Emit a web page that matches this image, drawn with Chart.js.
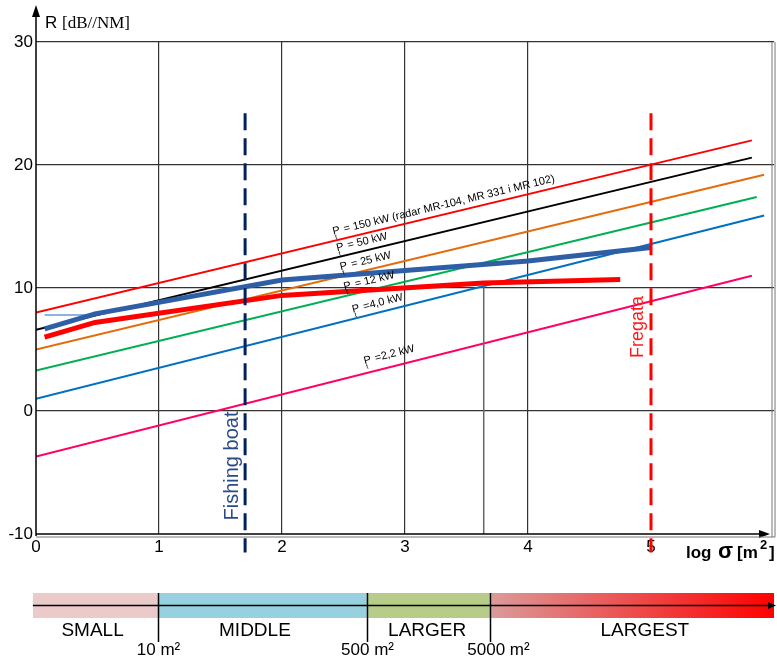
<!DOCTYPE html>
<html>
<head>
<meta charset="utf-8">
<script src="https://cdn.jsdelivr.net/npm/chart.js@4.4.1/dist/chart.umd.min.js"></script>
<style>
  body { margin: 0; background: #fff; }
  canvas { display: block; }
</style>
</head>
<body>
<canvas id="radar" width="777" height="659"></canvas>
<script>
// radar power lines: R [dB/NM] vs log sigma
var powerLabels = ['= 150 kW (radar MR-104, MR 331 i MR 102)', '= 50 kW', '= 25 kW', '= 12 kW', '=4,0 kW', '=2,2 kW'];
var powerColors = ['#ff0000', '#000000', '#e46c0a', '#00b050', '#0070c0', '#ff0066'];
var powerX = [[0, 5.82], [0, 5.82], [0, 5.92], [0, 5.86], [0, 5.92], [0, 5.82]];
var powerY = [[8.0, 22.0], [6.6, 20.6], [5.0, 19.2], [3.3, 17.4], [1.0, 15.9], [-3.7, 11.0]];
var labelAt = [2.43, 2.46, 2.49, 2.52, 2.59, 2.69];

// measured curves
var blueX = [0.07, 0.48, 2.0, 4.0, 5.0];
var blueY = [6.67, 7.9, 10.65, 12.2, 13.3];
var redX = [0.07, 0.48, 2.0, 3.64, 4.75];
var redY = [6.0, 7.2, 9.4, 10.4, 10.7];
var refX = [0.07, 0.48];
var refY = [7.8, 7.8];

// target markers
var fishingX = 1.7, fregataX = 5.0;
var markerY = [24.2, -11.5];

// size classes bar
var classNames = ['SMALL', 'MIDDLE', 'LARGER', 'LARGEST'];
var classStart = [-0.025, 1, 2.7, 3.7];
var classEnd = [1, 2.7, 3.7, 6];
var classLabelX = [0.46, 1.78, 3.18, 4.95];
var classBounds = [1, 2.7, 3.7];
var boundLabels = ['10 m\u00b2', '500 m\u00b2', '5000 m\u00b2'];

function pts(xs, ys) {
  var out = [];
  for (var i = 0; i < xs.length; i++) out.push({x: xs[i], y: ys[i]});
  return out;
}

var datasets = [];
datasets.push({data: pts([fishingX, fishingX], markerY), borderColor: '#002060', borderWidth: 3, borderDash: [17, 8], clip: false});
datasets.push({data: pts([fregataX, fregataX], markerY), borderColor: '#ff0000', borderWidth: 3, borderDash: [17, 8], clip: false});
datasets.push({data: pts(redX, redY), borderColor: '#ff0000', backgroundColor: '#ff0000', borderWidth: 5,
  pointRadius: [0, 2, 0, 2, 0], pointBorderWidth: 0});
datasets.push({data: pts(blueX, blueY), borderColor: '#2e5fa6', backgroundColor: '#2e5fa6', borderWidth: 5,
  pointRadius: [0, 2, 2, 2, 0], pointBorderWidth: 0});
datasets.push({data: pts(refX, refY), borderColor: '#8fb3e0', borderWidth: 2});
datasets.push({data: pts([redX[3], redX[3]], [redY[3], -10]), borderColor: '#666', borderWidth: 1.5});
for (var i = 0; i < powerLabels.length; i++) {
  datasets.push({data: pts(powerX[i], powerY[i]), borderColor: powerColors[i], borderWidth: 2});
}

var extras = {
  id: 'extras',
  afterDraw: function(chart) {
    var ctx = chart.ctx, a = chart.chartArea, xs = chart.scales.x, ys = chart.scales.y;
    ctx.save();

    // power labels along lines
    ctx.fillStyle = '#000';
    for (var i = 0; i < powerLabels.length; i++) {
      var x0 = xs.getPixelForValue(powerX[i][0]), y0 = ys.getPixelForValue(powerY[i][0]);
      var x1 = xs.getPixelForValue(powerX[i][1]), y1 = ys.getPixelForValue(powerY[i][1]);
      var ang = Math.atan2(y1 - y0, x1 - x0);
      var v = labelAt[i];
      var lv = powerY[i][0] + (powerY[i][1] - powerY[i][0]) * (v - powerX[i][0]) / (powerX[i][1] - powerX[i][0]);
      ctx.save();
      ctx.translate(xs.getPixelForValue(v), ys.getPixelForValue(lv));
      ctx.rotate(ang);
      ctx.translate(0, i === 5 ? -9 : -6);
      ctx.font = '11px "Liberation Sans", Arial, sans-serif';
      ctx.textBaseline = 'alphabetic';
      ctx.fillText('P', 0, 0);
      var pw = ctx.measureText('P').width;
      ctx.fillText(' ' + powerLabels[i], pw + 1, 0);
      ctx.font = '7px "Liberation Sans", Arial, sans-serif';
      ctx.fillText('t', 1, 5);
      ctx.restore();
    }

    // target names
    ctx.save();
    ctx.translate(xs.getPixelForValue(fishingX) - 13, 466);
    ctx.rotate(-Math.PI / 2);
    ctx.fillStyle = '#2a4a8a';
    ctx.font = '20px "Liberation Sans", Arial, sans-serif';
    ctx.textAlign = 'center';
    ctx.textBaseline = 'middle';
    ctx.fillText('Fishing boat', 0, 0);
    ctx.restore();

    ctx.save();
    ctx.translate(xs.getPixelForValue(fregataX) - 13, 327);
    ctx.rotate(-Math.PI / 2);
    ctx.fillStyle = '#ff1a1a';
    ctx.font = '18px "Liberation Sans", Arial, sans-serif';
    ctx.textAlign = 'center';
    ctx.textBaseline = 'middle';
    ctx.fillText('Fregata', 0, 0);
    ctx.restore();

    // axes and frame
    ctx.strokeStyle = '#000';
    ctx.fillStyle = '#000';
    ctx.lineWidth = 1.5;
    ctx.beginPath();
    ctx.moveTo(a.left, a.bottom + 2);
    ctx.lineTo(a.left, 14);
    ctx.stroke();
    ctx.beginPath();
    ctx.moveTo(a.left, 5); ctx.lineTo(a.left - 4, 17); ctx.lineTo(a.left + 4, 17);
    ctx.closePath(); ctx.fill();

    ctx.beginPath();
    ctx.moveTo(a.left, a.bottom);
    ctx.lineTo(a.right - 8, a.bottom);
    ctx.stroke();
    ctx.beginPath();
    ctx.moveTo(a.right - 4, a.bottom); ctx.lineTo(a.right - 15, a.bottom - 4); ctx.lineTo(a.right - 15, a.bottom + 4);
    ctx.closePath(); ctx.fill();
    ctx.strokeStyle = '#777';
    ctx.lineWidth = 1;
    ctx.beginPath();
    ctx.moveTo(a.left, a.bottom + 3);
    ctx.lineTo(a.right + 1, a.bottom + 3);
    ctx.moveTo(a.right - 2, a.top);
    ctx.lineTo(a.right - 2, a.bottom + 3);
    ctx.moveTo(a.right + 1, a.top);
    ctx.lineTo(a.right + 1, a.bottom + 3);
    ctx.stroke();

    // axis titles
    ctx.fillStyle = '#000';
    ctx.textBaseline = 'alphabetic';
    ctx.font = '17px "Liberation Sans", Arial, sans-serif';
    ctx.fillText('R', 45, 28);
    ctx.font = '17px "Liberation Serif", "Times New Roman", serif';
    ctx.fillText('[dB//NM]', 62, 28);

    ctx.font = 'bold 17px "Liberation Sans", Arial, sans-serif';
    ctx.fillText('log', 686, 558);
    ctx.font = 'bold 22px "Liberation Sans", Arial, sans-serif';
    ctx.fillText('\u03c3', 718, 558);
    ctx.font = 'bold 17px "Liberation Sans", Arial, sans-serif';
    ctx.fillText('[m', 737, 558);
    ctx.font = 'bold 13px "Liberation Sans", Arial, sans-serif';
    ctx.fillText('2', 760, 549);
    ctx.font = 'bold 17px "Liberation Sans", Arial, sans-serif';
    ctx.fillText(']', 769, 558);

    // size class bar
    var top = 593, h = 25;
    var colors = ['#ebcaca', '#97d0de', '#b7cc89', null];
    for (var k = 0; k < classNames.length; k++) {
      var sx = xs.getPixelForValue(classStart[k]), ex = xs.getPixelForValue(classEnd[k]);
      if (colors[k]) {
        ctx.fillStyle = colors[k];
      } else {
        var g = ctx.createLinearGradient(sx, 0, ex, 0);
        g.addColorStop(0, '#db9a9a');
        g.addColorStop(1, '#ff0000');
        ctx.fillStyle = g;
      }
      ctx.fillRect(sx, top, ex - sx, h);
    }
    ctx.strokeStyle = '#000';
    ctx.lineWidth = 1.5;
    var bx0 = xs.getPixelForValue(classStart[0]), bx1 = xs.getPixelForValue(classEnd[3]);
    ctx.beginPath();
    ctx.moveTo(bx0, top + 12.5);
    ctx.lineTo(bx1 - 2, top + 12.5);
    ctx.stroke();
    ctx.fillStyle = '#000';
    ctx.beginPath();
    ctx.moveTo(bx1 + 2, top + 12.5); ctx.lineTo(bx1 - 6, top + 9); ctx.lineTo(bx1 - 6, top + 16);
    ctx.closePath(); ctx.fill();

    ctx.font = '19px "Liberation Sans", Arial, sans-serif';
    ctx.textAlign = 'center';
    ctx.textBaseline = 'alphabetic';
    for (var k = 0; k < classNames.length; k++) {
      ctx.fillText(classNames[k], xs.getPixelForValue(classLabelX[k]), 636);
    }
    ctx.font = '17px "Liberation Sans", Arial, sans-serif';
    for (var b = 0; b < classBounds.length; b++) {
      var bx = Math.round(xs.getPixelForValue(classBounds[b])) - 0.5;
      ctx.beginPath();
      ctx.moveTo(bx, top);
      ctx.lineTo(bx, 642);
      ctx.stroke();
      ctx.fillText(boundLabels[b], bx + (b === 2 ? 8 : 0), 655);
    }
    ctx.restore();
  }
};

new Chart(document.getElementById('radar'), {
  type: 'scatter',
  data: {datasets: datasets},
  options: {
    responsive: false,
    animation: false,
    devicePixelRatio: 1,
    showLine: true,
    elements: {point: {radius: 0}, line: {tension: 0}},
    layout: {padding: {top: 42, right: 2, left: 0, bottom: 0}},
    plugins: {legend: {display: false}, tooltip: {enabled: false}},
    scales: {
      x: {
        type: 'linear', min: 0, max: 6,
        afterFit: function(s) { s.height = 125; },
        border: {display: false},
        grid: {
          drawTicks: false,
          lineWidth: 1.2,
          color: function(c) { return (c.tick && c.tick.value >= 1 && c.tick.value <= 4) ? '#333' : 'rgba(0,0,0,0)'; }
        },
        ticks: {
          stepSize: 1, padding: 3, color: '#000',
          font: {family: '"Liberation Sans", Arial, sans-serif', size: 17},
          callback: function(v) { return v <= 5 ? v : ''; }
        }
      },
      y: {
        min: -10, max: 30,
        afterFit: function(s) { s.width = 36; },
        border: {display: false},
        grid: {
          drawTicks: false,
          lineWidth: 1.2,
          color: function(c) { return (c.tick && c.tick.value >= 0) ? '#333' : 'rgba(0,0,0,0)'; }
        },
        ticks: {
          stepSize: 10, padding: 3, color: '#000',
          font: {family: '"Liberation Sans", Arial, sans-serif', size: 17}
        }
      }
    }
  },
  plugins: [extras]
});
</script>
</body>
</html>
